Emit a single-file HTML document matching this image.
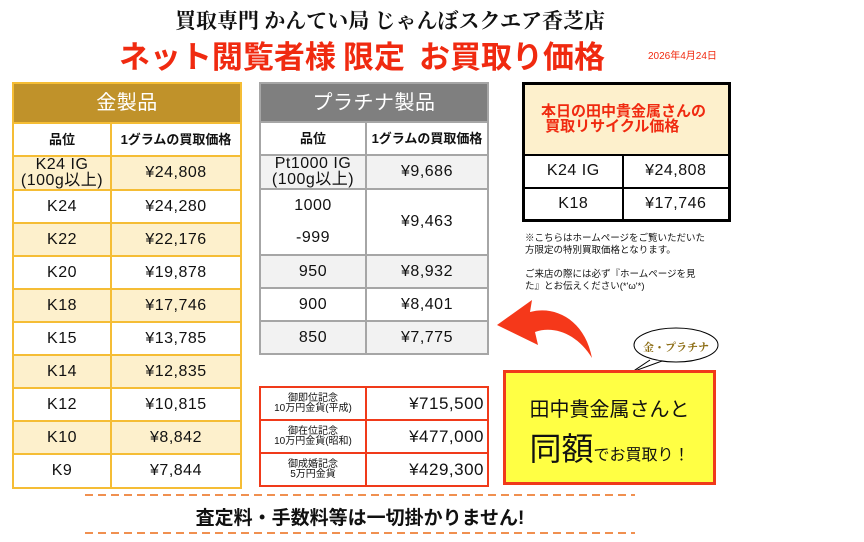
<!DOCTYPE html>
<html><head><meta charset="utf-8"><style>
*{margin:0;padding:0;box-sizing:border-box}
body{width:864px;height:542px;background:#fff;position:relative;overflow:hidden;font-family:"Liberation Sans","Noto Sans CJK JP",sans-serif;color:#111}
.a{position:absolute}
table{position:absolute;border-collapse:collapse;table-layout:fixed}
td{text-align:center;vertical-align:middle;font-size:16px;line-height:1.0;padding:0;letter-spacing:0.5px}
.g td{border:2px solid #f5bd35}
.p td{border:2px solid #a6a6a6}
.r td{border:2px solid #000}
.c td{border:2px solid #f03a1a}
.sm{font-size:13px;font-weight:bold;letter-spacing:0}
</style></head><body>
<div class="a" style="left:0;width:780px;top:5px;text-align:center;font-family:'Noto Serif CJK SC',serif;font-size:21px;font-weight:bold">買取専門 かんてい局 じゃんぼスクエア香芝店</div>
<div class="a" style="left:0;width:724px;top:32px;text-align:center;font-size:31px;font-weight:bold;color:#f02a10;font-family:'Noto Sans CJK JP',sans-serif;white-space:nowrap">ネット閲覧者様 限定&nbsp; お買取り価格</div>
<div class="a" style="left:648px;top:47px;font-size:10px;color:#f02a10">2026年4月24日</div>

<table class="g" style="left:12px;top:82px;width:230px">
<col style="width:98px"><col>
<tr><td colspan="2" style="height:40px;background:#c0922a;color:#fff;font-size:20px">金製品</td></tr>
<tr style="height:33px"><td class="sm">品位</td><td class="sm">1グラムの買取価格</td></tr>
<tr style="height:34px;background:#fdf0cc"><td>K24 IG<br>(100g以上)</td><td>¥24,808</td></tr>
<tr style="height:33px"><td>K24</td><td>¥24,280</td></tr>
<tr style="height:33px;background:#fdf0cc"><td>K22</td><td>¥22,176</td></tr>
<tr style="height:33px"><td>K20</td><td>¥19,878</td></tr>
<tr style="height:33px;background:#fdf0cc"><td>K18</td><td>¥17,746</td></tr>
<tr style="height:33px"><td>K15</td><td>¥13,785</td></tr>
<tr style="height:33px;background:#fdf0cc"><td>K14</td><td>¥12,835</td></tr>
<tr style="height:33px"><td>K12</td><td>¥10,815</td></tr>
<tr style="height:33px;background:#fdf0cc"><td>K10</td><td>¥8,842</td></tr>
<tr style="height:34px"><td>K9</td><td>¥7,844</td></tr>
</table>

<table class="p" style="left:259px;top:82px;width:230px">
<col style="width:106px"><col>
<tr><td colspan="2" style="height:39px;background:#7f7f7f;color:#fff;font-size:20px">プラチナ製品</td></tr>
<tr style="height:33px"><td class="sm">品位</td><td class="sm">1グラムの買取価格</td></tr>
<tr style="height:34px;background:#f2f2f2"><td>Pt1000 IG<br>(100g以上)</td><td>¥9,686</td></tr>
<tr style="height:66px"><td>1000<br><br>-999</td><td>¥9,463</td></tr>
<tr style="height:33px;background:#f2f2f2"><td>950</td><td>¥8,932</td></tr>
<tr style="height:33px"><td>900</td><td>¥8,401</td></tr>
<tr style="height:33px;background:#f2f2f2"><td>850</td><td>¥7,775</td></tr>
</table>

<table class="r" style="left:522px;top:82px;width:209px;border:3px solid #000">
<col style="width:99px"><col>
<tr><td colspan="2" style="height:71px;background:#fdf0cc;color:#f02a10;font-size:15px;font-weight:bold;text-align:left;padding-left:16px;letter-spacing:0">本日の田中貴金属さんの<br>&nbsp;買取リサイクル価格</td></tr>
<tr style="height:33px"><td>K24 IG</td><td>¥24,808</td></tr>
<tr style="height:33px"><td>K18</td><td>¥17,746</td></tr>
</table>
<div class="a" style="left:525px;top:233px;font-size:9.5px;line-height:12px">※こちらはホームページをご覧いただいた<br>方限定の特別買取価格となります。<br><br>ご来店の際には必ず『ホームページを見<br>た』とお伝えください(*&#x27;ω&#x27;*)</div>

<table class="c" style="left:259px;top:386px;width:230px">
<col style="width:106px"><col>
<tr style="height:33px"><td style="font-size:10px;letter-spacing:0">御即位記念<br>10万円金貨(平成)</td><td style="text-align:right;padding-right:3px;font-size:17px">¥715,500</td></tr>
<tr style="height:33px"><td style="font-size:10px;letter-spacing:0">御在位記念<br>10万円金貨(昭和)</td><td style="text-align:right;padding-right:3px;font-size:17px">¥477,000</td></tr>
<tr style="height:33px"><td style="font-size:10px;letter-spacing:0">御成婚記念<br>5万円金貨</td><td style="text-align:right;padding-right:3px;font-size:17px">¥429,300</td></tr>
</table>

<svg class="a" style="left:0;top:0" width="864" height="542">
<path d="M592,358 C585,320 555,305 530,312 L532,300 L497,325 L538,345 L535,332 C555,325 578,335 592,358 Z" fill="#f5381a"/>
<ellipse cx="676" cy="345" rx="42" ry="17" fill="#fff" stroke="#000" stroke-width="1"/>
<path d="M650,360 L632,372 L662,361" fill="#fff" stroke="#000" stroke-width="1"/>
<text x="676" y="351" text-anchor="middle" font-size="11" font-weight="bold" fill="#8a6a10" font-family="Noto Serif CJK SC,serif">金・プラチナ</text>
<line x1="85" y1="495" x2="635" y2="495" stroke="#f09050" stroke-width="2" stroke-dasharray="8,5"/>
<line x1="85" y1="533" x2="635" y2="533" stroke="#f09050" stroke-width="2" stroke-dasharray="8,5"/>
</svg>
<div class="a" style="left:503px;top:370px;width:213px;height:115px;background:#ffff44;border:3px solid #f03a1a;text-align:center">
<div style="font-size:20px;margin-top:20px">田中貴金属さんと</div>
<div style="font-size:16px;margin-top:2px"><span style="font-size:32px">同額</span>でお買取り！</div>
</div>
<div class="a" style="left:85px;width:550px;top:503px;text-align:center;font-size:19px;font-weight:bold">査定料・手数料等は一切掛かりません!</div>
</body></html>
